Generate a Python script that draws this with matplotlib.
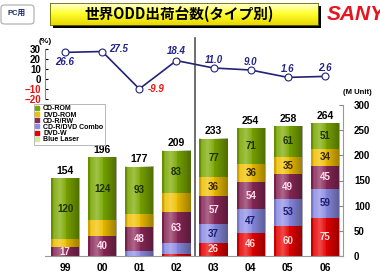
import numpy as np
import matplotlib.pyplot as plt
from matplotlib.patches import FancyBboxPatch, Rectangle
from matplotlib.colors import LinearSegmentedColormap

plt.rcParams['font.family'] = ['Liberation Sans', 'Noto Sans CJK JP', 'DejaVu Sans']
plt.rcParams['font.weight'] = 'bold'

# data
years = ['99', '00', '01', '02', '03', '04', '05', '06']
cd_rom = [120, 124, 93, 83, 77, 71, 61, 51]
dvd_rom = [17, 32, 26, 38, 36, 36, 35, 34]
cd_rw = [17, 40, 48, 63, 57, 54, 49, 45]
combo = [0, 0, 10, 22, 37, 47, 53, 59]
dvd_w = [0, 0, 0, 3, 26, 46, 60, 75]
blue_laser = [0, 0, 0, 0, 0, 0, 0, 0]
growth = [26.6, 27.5, -9.9, 18.4, 11.0, 9.0, 1.6, 2.6]

names = ['CD-ROM', 'DVD-ROM', 'CD-R/RW', 'CD-R/DVD Combo', 'DVD-W', 'Blue Laser']
colors = ['#7aa800', '#f0c000', '#8a2858', '#8c8ce6', '#e80000', '#d8e8a0']
txt_colors = ['#1c3000', '#3a2800', '#ffe0ee', '#1c1c70', '#ffe0e0', '#000000']

W, H = 380, 274
fig = plt.figure(figsize=(W / 100, H / 100), dpi=100)


def px_axes(l, t, r, b):
    return fig.add_axes([l / W, 1 - b / H, (r - l) / W, (b - t) / H])


x = np.arange(len(years))
xlim = (-0.54, 7.485)

# ---- bars
ax = px_axes(45, 105, 343, 256)
stack = [dvd_w, combo, cd_rw, dvd_rom, cd_rom, blue_laser]
stack_idx = [4, 3, 2, 1, 0, 5]
bottom = np.zeros(len(years))
bw = 0.76
for vals, k in zip(stack, stack_idx):
    vals = np.array(vals, dtype=float)
    ax.bar(x, vals, bw, bottom=bottom, color=colors[k], zorder=2, linewidth=0)
    for i, v in enumerate(vals):
        show = v >= 15 and not (i < 4 and k in (1, 3))
        if show:
            ax.text(x[i], bottom[i] + v / 2, f'{int(v)}', ha='center', va='center',
                    fontsize=7, color=txt_colors[k], zorder=5)
    bottom += vals

# cylinder shading on each bar
pos = np.linspace(0, 1, 64)
shade = np.zeros((1, 64, 4))
a_dark = np.interp(pos, [0, 0.15, 0.45, 1], [0.15, 0.0, 0.0, 0.35])
a_light = np.interp(pos, [0, 0.3, 0.55], [0.0, 0.3, 0.0])
lum = np.where(a_light > a_dark, 1.0, 0.0)
shade[0, :, 0] = lum
shade[0, :, 1] = lum
shade[0, :, 2] = lum
shade[0, :, 3] = a_dark + a_light
for i, tot in enumerate(bottom):
    ax.imshow(shade, extent=(x[i] - bw / 2, x[i] + bw / 2, 0, tot), aspect='auto',
              zorder=3, interpolation='bilinear')
    ax.text(x[i], tot + 5, f'{int(tot)}', ha='center', va='bottom', fontsize=7.5,
            color='black', zorder=5)

ax.set_xlim(*xlim)
ax.set_ylim(0, 300)
ax.set_xticks(x)
ax.set_xticklabels(years, fontsize=7.5)
ax.tick_params(axis='x', length=0, pad=5)
ax.yaxis.tick_right()
ax.set_yticks(np.arange(0, 301, 50))
ax.tick_params(axis='y', direction='in', length=3, labelsize=7, pad=8, color='#888888')
for lab in ax.get_yticklabels():
    lab.set_horizontalalignment('left')
for s in ['top', 'left']:
    ax.spines[s].set_visible(False)
ax.spines['right'].set_color('#999999')
ax.spines['bottom'].set_color('#999999')
ax.patch.set_alpha(0)
ax.text(1.0, 1.06, '(M Unit)', transform=ax.transAxes, fontsize=5.5, ha='left', va='bottom')

# separator between actual and forecast
ax.axvline(3.5, ymin=0, ymax=(256 - 38) / 151, color='#555555', lw=1.2, clip_on=False, zorder=1)

# legend
handles = [plt.Line2D([], [], marker='s', ls='', color=c, markersize=2.5) for c in colors]
leg = ax.legend(handles, names, loc='upper left', bbox_to_anchor=(34 / W, 1 - 104 / H),
                bbox_transform=fig.transFigure, fontsize=5, frameon=True, fancybox=False,
                handlelength=0.5, handletextpad=0.6, labelspacing=-0.12, borderpad=0.2,
                borderaxespad=0)
leg.get_frame().set_edgecolor('#999999')
leg.get_frame().set_linewidth(0.6)
leg.set_zorder(10)

# ---- growth line
lx = px_axes(45, 49, 343, 99)
lx.plot(x, growth, color='#222277', lw=1.2, marker='o', markersize=5,
        markerfacecolor='white', markeredgecolor='#222277', markeredgewidth=0.8,
        clip_on=False, zorder=3)
offsets = [(0, -7), (12, 2), (12, 0), (0, 7), (0, 6), (0, 6), (0, 6), (0, 6)]
for i, g in enumerate(growth):
    dx, dy = offsets[i]
    lx.annotate(f'{g:.1f}', (x[i], g), xytext=(dx, dy), textcoords='offset points',
                ha='center', va='center', fontsize=7, style='italic',
                color='#ee1111' if g < 0 else '#222288')
lx.set_xlim(*xlim)
lx.set_ylim(-20, 30)
lx.set_yticks(np.arange(-20, 31, 10))
lx.tick_params(axis='y', direction='in', length=2, labelsize=7, pad=3)
for lab, t in zip(lx.get_yticklabels(), np.arange(-20, 31, 10)):
    lab.set_color('#ee1111' if t < 0 else 'black')
lx.set_xticks([])
for s in ['top', 'right', 'bottom']:
    lx.spines[s].set_visible(False)
lx.spines['left'].set_color('#888888')
lx.patch.set_alpha(0)
lx.text(0.0, 1.08, '(%)', transform=lx.transAxes, fontsize=6, ha='center', va='bottom')

# ---- header
fig.patches.append(FancyBboxPatch((1 / W, 1 - 24 / H), 33 / W, 19 / H,
                                  boxstyle='round,pad=0,rounding_size=0.01',
                                  transform=fig.transFigure, facecolor='white',
                                  edgecolor='#aaaaaa', lw=0.8, zorder=-1))
fig.text(17 / W, 1 - 14 / H, 'PC用', fontsize=5.5, color='#1c2a6a', ha='center', va='center')

fig.patches.append(Rectangle((53 / W, 1 - 28 / H), 268 / W, 22 / H,
                             transform=fig.transFigure, facecolor='black', lw=0, zorder=-1))
grad = np.linspace(0, 1, 32).reshape(-1, 1)
tax = px_axes(50, 3, 318, 25)
tax.imshow(grad, cmap=LinearSegmentedColormap.from_list(
    'yel', ['#e8d800', '#ffff30', '#ffffe8']), aspect='auto', extent=(0, 1, 0, 1),
    origin='lower')
tax.set_xlim(0, 1)
tax.set_ylim(0, 1)
tax.set_xticks([])
tax.set_yticks([])
for s in tax.spines.values():
    s.set_color('#666600')
    s.set_linewidth(0.6)
tax.text(0.48, 0.5, '世界ODD出荷台数(タイプ別)', ha='center', va='center', fontsize=10.5,
         fontfamily=['Noto Sans CJK JP', 'DejaVu Sans'], fontweight='bold', color='black')

fig.text(327 / W, 1 - 15 / H, 'SANYO', fontsize=15, color='#e8141e', style='italic',
         fontweight='heavy', ha='left', va='center')

fig.savefig('out.png', dpi=100)
